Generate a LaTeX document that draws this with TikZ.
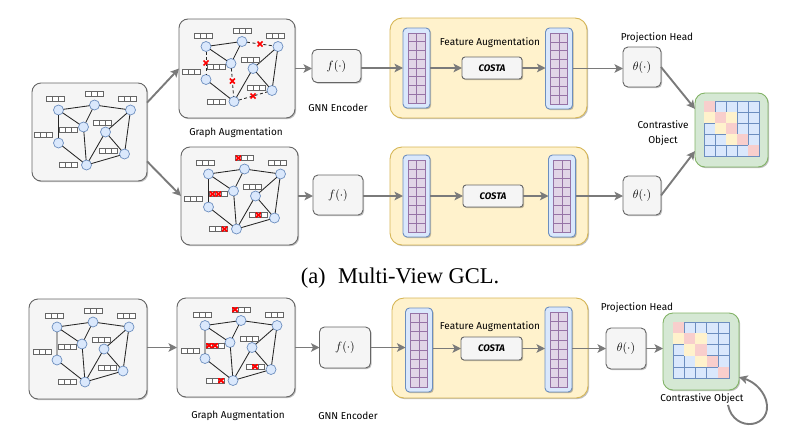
\documentclass[tikz,border=0pt]{standalone}
\usepackage{fontspec}
\setmainfont{Liberation Serif}
\newfontfamily\labfont{Fira Sans}
\usetikzlibrary{arrows.meta,shadows}
\definecolor{boxfill}{HTML}{F5F5F5}
\definecolor{boxdraw}{HTML}{666666}
\definecolor{yfill}{HTML}{FFF2CC}
\definecolor{ydraw}{HTML}{D6B656}
\definecolor{bfill}{HTML}{DAE8FC}
\definecolor{bdraw}{HTML}{6C8EBF}
\definecolor{pfill}{HTML}{E1D5E7}
\definecolor{pdraw}{HTML}{9673A6}
\definecolor{gfill}{HTML}{D5E8D4}
\definecolor{gdraw}{HTML}{82B366}
\definecolor{rfill}{HTML}{F8CECC}
\definecolor{arrgray}{HTML}{7A7A7A}
\definecolor{xred}{HTML}{FF0000}
\tikzset{
  every node/.style={inner sep=0pt, outer sep=0pt},
  arr/.style={draw=arrgray, line width=1.9pt, -{Stealth[length=8.5pt,width=8.5pt,inset=2pt]}},
  shadowed/.style={drop shadow={shadow xshift=1.2pt, shadow yshift=-1.2pt, opacity=0.25, fill=black}},
  graybox/.style={draw=boxdraw, fill=boxfill, line width=0.9pt, rounded corners=9pt, shadowed},
  smallbox/.style={draw=boxdraw, fill=boxfill, line width=0.9pt, rounded corners=5pt, shadowed, font=\fontsize{12}{14}\selectfont},
  costabox/.style={draw=boxdraw, fill=boxfill, line width=0.9pt, rounded corners=3pt, shadowed, minimum width=60, minimum height=22, font=\labfont\bfseries\itshape\fontsize{9.5}{11}\selectfont},
  ybox/.style={draw=ydraw, fill=yfill, line width=0.9pt, rounded corners=12pt, shadowed},
  colbox/.style={draw=bdraw, fill=bfill, line width=0.9pt, rounded corners=4pt, shadowed, minimum width=27},
  gridcell/.style={draw=pdraw, fill=pfill, line width=0.6pt},
  gbx/.style={draw=gdraw, fill=gfill, line width=0.9pt, rounded corners=10pt, shadowed},
  mcell/.style={draw=bdraw, fill=bfill, line width=0.6pt},
  gnode/.style={circle, minimum size=10, fill=bfill, draw=bdraw, line width=0.7pt},
  gedge/.style={draw=black!85, line width=0.85pt},
  dropped/.style={dash pattern=on 3pt off 2.5pt},
  redcross/.style={draw=xred, line width=1.7pt},
  barcell/.style={draw=boxdraw, fill=white, line width=0.6pt},
  maskx/.style={draw=xred, line width=1.9pt},
  lab/.style={font=\labfont\fontsize{10}{15}\selectfont},
}
\newcommand\fbar[5]{%
  \foreach \i/\m in {0/#3,1/#4,2/#5}{%
    \draw[barcell] ({#1-9+6*\i},{#2-2.5}) rectangle ++(6,5);
    \ifnum\m=1
      \begin{scope}
        \clip ({#1-9+6*\i},{#2-2.5}) rectangle ++(6,5);
        \draw[maskx] ({#1-9+6*\i+0.3},{#2-2.4}) -- ++(5.4,4.8) ++(-5.4,0) -- ++(5.4,-4.8);
      \end{scope}
    \fi
  }}
\newcommand\graphbox[4]{%
  \begin{scope}[shift={(#2,#3)}]
    \foreach \n/\x/\y in {A/-31/-22,B/5/-27,C/41/-22,D/-6/-5,E/16/0,F/-31/11,G/35/22,H/-3/33}{%
      \node[gnode] (#1\n) at (\x,\y) {};}
    \ifnum#4=1
      \draw[gedge] (#1A)--(#1B) (#1A)--(#1D) (#1B)--(#1D) (#1F)--(#1H) (#1H)--(#1E) (#1E)--(#1C) (#1E)--(#1G) (#1C)--(#1G);
      \draw[gedge,dropped] (#1B)--(#1C) coordinate[pos=.5] (#1x1);
      \draw[gedge,dropped] (#1A)--(#1F) coordinate[pos=.5] (#1x2);
      \draw[gedge,dropped] (#1D)--(#1H) coordinate[pos=.45] (#1x3);
      \draw[gedge,dropped] (#1H)--(#1G) coordinate[pos=.5] (#1x4);
      \foreach \k in {1,...,4}{\draw[redcross] (#1x\k) ++(-2.5,-2.5) -- ++(5,5) ++(-5,0) -- ++(5,-5);}
    \else
      \draw[gedge] (#1A)--(#1B) (#1B)--(#1C) (#1A)--(#1D) (#1A)--(#1F) (#1B)--(#1D) (#1D)--(#1H) (#1F)--(#1H) (#1H)--(#1G) (#1H)--(#1E) (#1E)--(#1C) (#1E)--(#1G) (#1C)--(#1G);
    \fi
    \ifnum#4=2
      \fbar{-34}{-33}{0}{0}{0}\fbar{5}{-38}{1}{0}{0}\fbar{38}{-33}{0}{0}{0}\fbar{-21}{-2}{1}{1}{0}
      \fbar{13}{-9}{0}{0}{0}\fbar{-46}{3}{0}{0}{0}\fbar{19}{19}{0}{1}{0}\fbar{-21}{33}{0}{0}{1}
    \else
      \fbar{-34}{-33}{0}{0}{0}\fbar{5}{-38}{0}{0}{0}\fbar{38}{-33}{0}{0}{0}\fbar{-21}{-2}{0}{0}{0}
      \fbar{13}{-9}{0}{0}{0}\fbar{-46}{3}{0}{0}{0}\fbar{19}{19}{0}{0}{0}\fbar{-21}{33}{0}{0}{0}
    \fi
  \end{scope}}
\newcommand\featcol[4]{%
  \node[colbox, minimum height=#4] (#1) at (#2,#3) {};
  \begin{scope}[shift={(#2,#3)}]
    \pgfmathsetmacro\gh{(#4-10)/8}
    \foreach \r in {0,...,7}{\foreach \c in {0,1}{%
      \draw[gridcell] ({-8.5+8.5*\c},{-(#4-10)/2+\gh*\r}) rectangle ++(8.5,\gh);}}
  \end{scope}}
\newcommand\simmat[3]{%
  \begin{scope}[shift={(#1,#2)}]
    \foreach \r in {0,...,4}{\foreach \c in {0,...,4}{%
      \draw[mcell] ({-2.5*#3+\c*#3},{-2.5*#3+\r*#3}) rectangle ++(#3,#3);}}
    \foreach \r/\c/\k in {0/0/rfill,1/1/rfill,2/2/rfill,3/3/rfill,4/4/rfill,1/0/yfill,1/2/yfill,2/1/yfill,3/2/yfill}{%
      \fill[\k] ({-2.5*#3+\c*#3},{-2.5*#3+\r*#3}) rectangle ++(#3,#3);}
  \end{scope}}
\begin{document}
\begin{tikzpicture}[x=1pt,y=-1pt]
\useasboundingbox (0,0) rectangle (794,442);
% ---------------- (a) ----------------
\node[graybox, minimum width=115, minimum height=98] (L1) at (89.5,132) {};
\graphbox{g0}{89.5}{132}{0}
\node[graybox, minimum width=116, minimum height=99] (A1) at (237,68.5) {};
\graphbox{g1}{237}{68.5}{1}
\node[graybox, minimum width=117, minimum height=98] (A2) at (239.5,196) {};
\graphbox{g2}{239.5}{196}{2}
\node[lab] (tGA1) at (236,133) {Graph Augmentation};

\node[smallbox, minimum width=49, minimum height=33] (F1) at (336.5,66) {$f(\cdot)$};
\node[lab] (tGNN1) at (338,108) {GNN Encoder};
\node[smallbox, minimum width=50, minimum height=40] (F2) at (338,195) {$f(\cdot)$};

\node[ybox, minimum width=197, minimum height=100] (Y1) at (488.5,68) {};
\featcol{LC1}{416.5}{68}{80}
\featcol{RC1}{559}{68.5}{81}
\node[costabox] (CO1) at (492,68) {COSTA};
\node[lab] (tFA1) at (490,43) {Feature Augmentation};

\node[ybox, minimum width=198, minimum height=98] (Y2) at (489,196) {};
\featcol{LC2}{416.5}{196}{82}
\featcol{RC2}{562}{196}{82}
\node[costabox] (CO2) at (493,196) {COSTA};

\node[smallbox, minimum width=38, minimum height=40] (T1) at (642,67) {$\theta(\cdot)$};
\node[smallbox, minimum width=38, minimum height=39] (T2) at (642,195.5) {$\theta(\cdot)$};
\node[lab] (tPH1) at (657,38) {Projection Head};

\node[gbx, minimum width=73, minimum height=74] (G1) at (731.5,130) {};
\simmat{731.5}{128.5}{11}
\node[lab, align=center] (tCO1) at (663,133) {Contrastive\\Object};

\draw[arr] (L1.27) -- (A1.west);
\draw[arr] (L1.-27) -- (A2.west);
\draw[arr] (A1.east) -- (A1.east -| F1.west);
\draw[arr] (A2.east) -- (A2.east -| F2.west);
\draw[arr] (F1.east |- LC1.west) -- (LC1.west);
\draw[arr] (F2.east |- LC2.west) -- (LC2.west);
\draw[arr] (LC1.east) -- (CO1.west);
\draw[arr] (CO1.east) -- (RC1.west |- CO1.east);
\draw[arr] (LC2.east) -- (CO2.west);
\draw[arr] (CO2.east) -- (RC2.west |- CO2.east);
\draw[arr] (RC1.east) -- (RC1.east -| T1.west);
\draw[arr] (RC2.east) -- (RC2.east -| T2.west);
\draw[arr] (T1.east) -- (G1.150);
\draw[arr] (T2.east) -- (G1.210);

\node[anchor=base, font=\fontsize{22.5}{26}\selectfont] (cap) at (400,283) {(a)\hspace{0.55em}Multi-View GCL.};

% ---------------- (b) ----------------
\node[graybox, minimum width=118, minimum height=100] (LB) at (88,349) {};
\graphbox{g3}{88}{349}{0}
\node[graybox, minimum width=118, minimum height=99] (A3) at (236,347.5) {};
\graphbox{g4}{236}{347.5}{2}
\node[lab] (tGA3) at (238,416) {Graph Augmentation};

\node[smallbox, minimum width=51, minimum height=41] (F3) at (345,347.5) {$f(\cdot)$};
\node[lab] (tGNN3) at (348,416) {GNN Encoder};

\node[ybox, minimum width=196, minimum height=100] (Y3) at (490,348) {};
\featcol{LC3}{419}{350}{84}
\featcol{RC3}{558.5}{349.5}{85}
\node[costabox, minimum width=61, minimum height=23] (CO3) at (491.5,348.5) {COSTA};
\node[lab] (tFA3) at (490,327) {Feature Augmentation};

\node[smallbox, minimum width=40, minimum height=41] (T3) at (626,348.5) {$\theta(\cdot)$};
\node[lab] (tPH3) at (637,308) {Projection Head};

\node[gbx, minimum width=76, minimum height=77] (G3) at (701,351.5) {};
\simmat{701}{350}{11.2}
\node[lab] (tCO3) at (702,399) {Contrastive Object};

\draw[arr] (LB.east |- A3.west) -- (A3.west);
\draw[arr] (A3.east) -- (A3.east -| F3.west);
\draw[arr] (F3.east) -- (F3.east -| LC3.west);
\draw[arr] (LC3.east |- CO3.west) -- (CO3.west);
\draw[arr] (CO3.east) -- (CO3.east -| RC3.west);
\draw[arr] (RC3.east |- T3.west) -- (T3.west);
\draw[arr] (T3.east) -- (T3.east -| G3.west);
\coordinate (loopstart) at (728,405);
\draw[arr] (loopstart) .. controls (734,434) and (774,428) .. (766,400) .. controls (762,388) and (752,381) .. (G3.-34);
\end{tikzpicture}
\end{document}
